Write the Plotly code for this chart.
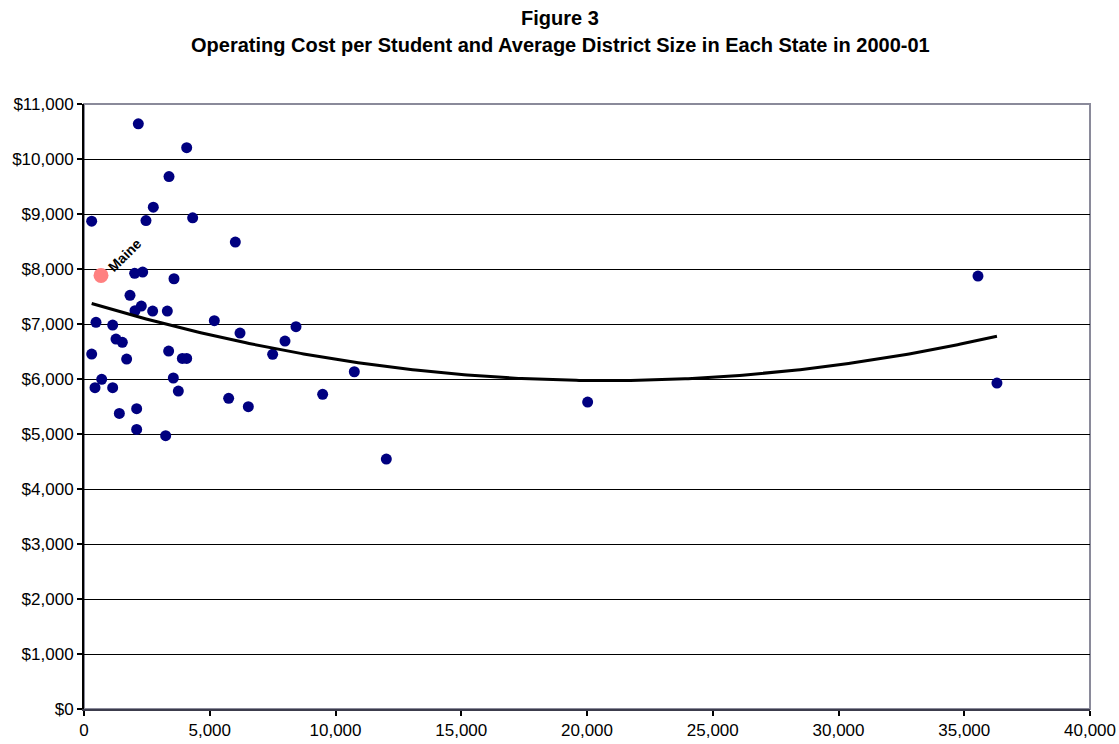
import numpy as np
import plotly.graph_objects as go

# Average district size (students per district) and operating cost per student, by state
district_size = [
    2160, 4083, 3380, 2756, 305, 2465, 4321, 6017, 2014, 2333,
    3578, 1829, 2279, 2028, 2730, 3313, 477, 1140, 5182, 6203,
    8429, 7992, 305, 437, 703, 1140, 1272, 1524, 1696, 1405,
    2094, 2094, 3247, 3366, 3552, 3751, 3910, 4083, 5752, 6534,
    7501, 9489, 10748, 12021, 20026, 35546, 36300,
]
cost_per_student = [
    10640, 10205, 9680, 9125, 8870, 8880, 8930, 8490, 7921, 7945,
    7823, 7521, 7327, 7241, 7236, 7236, 7030, 6981, 7060, 6836,
    6951, 6690, 6454, 5842, 5994, 5842, 6727, 6666, 6363, 5375,
    5460, 5084, 4969, 6508, 6018, 5781, 6375, 6375, 5648, 5496,
    6448, 5721, 6132, 4545, 5581, 7872, 5927,
]

# Highlighted state
maine_size = [676]
maine_cost = [7884]
maine_label = ["Maine"]

title_lines = [
    "Figure 3",
    "Operating Cost per Student and Average District Size in Each State in 2000-01",
]

x_ticks = [0, 5000, 10000, 15000, 20000, 25000, 30000, 35000, 40000]
y_ticks = list(range(0, 11001, 1000))

# Second-order polynomial trend over all states
all_x = np.array(district_size + maine_size, dtype=float)
all_y = np.array(cost_per_student + maine_cost, dtype=float)
coef = np.polyfit(all_x, all_y, 2)
trend_x = np.linspace(all_x.min(), all_x.max(), 300)
trend_y = np.polyval(coef, trend_x)

font = "Liberation Sans, Arial, sans-serif"

fig = go.Figure()
fig.add_trace(go.Scatter(
    x=district_size, y=cost_per_student, mode="markers",
    marker=dict(color="#000080", size=11, line=dict(width=0)),
    showlegend=False, hoverinfo="x+y",
))
fig.add_trace(go.Scatter(
    x=maine_size, y=maine_cost, mode="markers",
    marker=dict(color="#FF8080", size=15, line=dict(width=0)),
    showlegend=False, hoverinfo="x+y",
))
fig.add_trace(go.Scatter(
    x=trend_x, y=trend_y, mode="lines",
    line=dict(color="#000000", width=3),
    showlegend=False, hoverinfo="skip",
))

fig.add_annotation(
    x=maine_size[0], y=maine_cost[0], text="<b>" + maine_label[0] + "</b>",
    showarrow=False, textangle=-45, xshift=24, yshift=20,
    font=dict(family=font, size=14, color="#000000"),
)

# Two-line heading centred on the page, above the plot area
for text, ypos in zip(title_lines, [1.1421, 1.0975]):
    fig.add_annotation(
        x=0.4732, y=ypos, xref="paper", yref="paper", xanchor="center", yanchor="middle",
        text="<b>" + text + "</b>", showarrow=False,
        font=dict(family=font, size=20, color="#000000"),
    )

fig.update_layout(
    width=1119, height=744,
    margin=dict(l=84, r=29, t=104, b=35),
    paper_bgcolor="#FFFFFF", plot_bgcolor="#FFFFFF",
    font=dict(family=font, size=17, color="#000000"),
    shapes=[dict(
        type="rect", xref="paper", yref="paper", x0=0, x1=1, y0=0, y1=1,
        line=dict(color="#8A8A9A", width=2), layer="below",
    )],
)
fig.update_xaxes(
    range=[0, 40000], tickvals=x_ticks, ticktext=[f"{v:,}" for v in x_ticks],
    showgrid=False, zeroline=False, automargin=False,
    showline=True, linecolor="#3C3C4C", linewidth=2,
    ticks="outside", ticklen=5, tickwidth=1.5, tickcolor="#000000",
    tickfont=dict(family=font, size=17),
)
fig.update_yaxes(
    range=[0, 11000], tickvals=y_ticks, ticktext=[f"${v:,}" for v in y_ticks],
    showgrid=True, gridcolor="#000000", gridwidth=1.2, zeroline=False, automargin=False,
    showline=True, linecolor="#000000", linewidth=2,
    ticks="outside", ticklen=5, tickwidth=1.5, tickcolor="#000000",
    tickfont=dict(family=font, size=17),
)

fig.write_html("out.html")
